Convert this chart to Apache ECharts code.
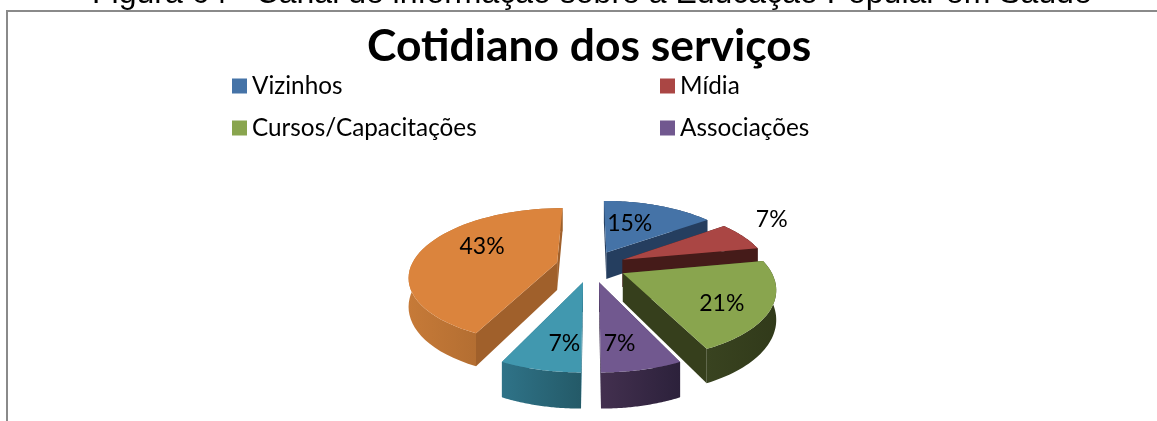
<!DOCTYPE html>
<html><head><meta charset="utf-8">
<style>html,body{margin:0;padding:0;background:#fff}#c{width:1157px;height:421px}</style>
<script src="https://cdn.jsdelivr.net/npm/echarts@6/dist/echarts.min.js"></script>
</head><body><div id="c"></div>
<script>
const caption = 'Figura 64 - Canal de informação sobre a Educação Popular em Saúde';
const chartTitle = 'Cotidiano dos serviços';
const categories = ['Vizinhos', 'Mídia', 'Cursos/Capacitações', 'Associações', 'Outros', 'Cotidiano'];
const values = [15, 7, 21, 7, 7, 43];
const topColors = ['#4573a7', '#aa4644', '#89a54e', '#71588f', '#4198af', '#db843d'];
const wallLeft = ['#253e5f', '#451b19', '#394320', '#43304f', '#2f7388', '#c67a38'];
const wallRight = ['#253e5f', '#451b19', '#313a1a', '#2c213b', '#245a68', '#9c5f2a'];
const radialWalls = ['#253e5f', '#451b19', '#363f1c', '#3a2a4a', '#2f7388', '#a0602b'];
const labelFraction = [0.72, 1.28, 0.62, 0.62, 0.62, 0.55];
const labelNudgeX = [-16, -2, 10, -4, 6, 0];
const labelNudgeY = [6, -11, 10, 12, 12, -8];

const START_DEG = 0, EXPLODE = 0.24, PERSP = 0.19, DEPTH = 0.42;
const CX = 591, CY = 266, RX = 146, RY = 66;
const total = values.reduce((a, b) => a + b, 0);
const starts = values.map((_, i) => values.slice(0, i).reduce((a, b) => a + b, 0));
const frontness = values.map((v, i) => -Math.cos((starts[i] + v / 2) / total * 2 * Math.PI + START_DEG * Math.PI / 180));
const rank = frontness.map(f => frontness.filter(g => g < f).length);

function project(api, gu, gv, drop) {
  const s = 1 / (1 - PERSP * gv);
  return api.coord([gu * s, (gv + drop) * s]);
}
function renderSlice(i) {
  return function (params, api) {
    const value = api.value(0), start = api.value(1);
    const a0 = start / total * 2 * Math.PI + START_DEG * Math.PI / 180;
    const a1 = (start + value) / total * 2 * Math.PI + START_DEG * Math.PI / 180;
    const mid = (a0 + a1) / 2;
    const ox = EXPLODE * Math.sin(mid), oy = -EXPLODE * Math.cos(mid);
    const ground = (a, r) => [ox + r * Math.sin(a), oy - r * Math.cos(a)];
    const rimTop = [], rimBot = [];
    const n = 48;
    for (let k = 0; k <= n; k++) {
      const g = ground(a0 + (a1 - a0) * k / n, 1);
      rimTop.push(project(api, g[0], g[1], 0));
      rimBot.push(project(api, g[0], g[1], DEPTH));
    }
    const apexTop = project(api, ox, oy, 0), apexBot = project(api, ox, oy, DEPTH);
    const poly = (points, fill) => ({ type: 'polygon', shape: { points }, style: { fill, stroke: null } });
    const children = [
      poly([apexTop, rimTop[0], rimBot[0], apexBot], radialWalls[i]),
      poly([apexTop, rimTop[n], rimBot[n], apexBot], radialWalls[i]),
      poly(rimTop.concat(rimBot.slice().reverse()), new echarts.graphic.LinearGradient(0, 0, 1, 0, [
        { offset: 0, color: wallLeft[i] }, { offset: 1, color: wallRight[i] }])),
      poly([apexTop].concat(rimTop), topColors[i])
    ];
    const lg = ground(mid, labelFraction[i]);
    const lp = project(api, lg[0], lg[1], 0);
    children.push({ type: 'text', z2: 50, style: { text: value + '%', x: lp[0] + labelNudgeX[i], y: lp[1] + labelNudgeY[i], fill: '#000',
      font: '23px Lato', align: 'center', verticalAlign: 'middle' } });
    return { type: 'group', children };
  };
}
const chart = echarts.init(document.getElementById('c'), null, { renderer: 'canvas' });
const legendText = { fontFamily: 'Lato', fontSize: 24.3, color: '#000' };
chart.setOption({
  animation: false,
  backgroundColor: '#fff',
  graphic: [
    { type: 'text', left: 92, top: -22, style: { text: caption, font: '32px "Liberation Sans"', fill: '#000' } },
    { type: 'line', shape: { x1: 7, y1: 11, x2: 1157, y2: 11 }, style: { stroke: '#8a8a8a', lineWidth: 2 } },
    { type: 'line', shape: { x1: 7, y1: 10, x2: 7, y2: 421 }, style: { stroke: '#8a8a8a', lineWidth: 2 } }
  ],
  title: { text: chartTitle, left: 367, top: 25, padding: 0,
    textStyle: { fontFamily: 'Lato', fontWeight: 'bold', fontSize: 44.4, color: '#000' } },
  legend: [
    { data: [categories[0], categories[2]], left: 232, top: 74, orient: 'vertical', itemGap: 18, itemWidth: 15, itemHeight: 15,
      icon: 'rect', padding: 0, textStyle: legendText, selectedMode: false },
    { data: [categories[1], categories[3]], left: 660, top: 74, orient: 'vertical', itemGap: 18, itemWidth: 15, itemHeight: 15,
      icon: 'rect', padding: 0, textStyle: legendText, selectedMode: false }
  ],
  grid: { left: CX - 2 * RX, top: CY - 2 * RY, width: 4 * RX, height: 4 * RY, show: false },
  xAxis: { type: 'value', min: -2, max: 2, show: false },
  yAxis: { type: 'value', min: -2, max: 2, inverse: true, show: false },
  series: categories.map((name, i) => ({
    type: 'custom', name, coordinateSystem: 'cartesian2d', clip: false, z: 2 + rank[i],
    itemStyle: { color: topColors[i] }, silent: true,
    renderItem: renderSlice(i),
    data: [[values[i], starts[i]]]
  }))
});
</script></body></html>
